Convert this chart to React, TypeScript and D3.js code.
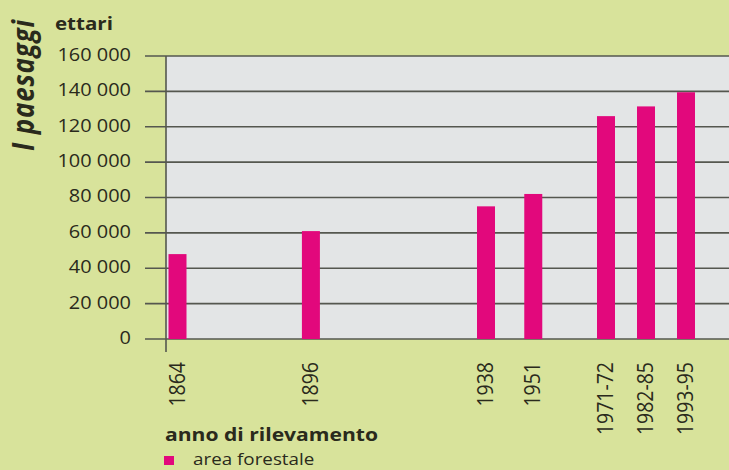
import { useEffect, useRef } from 'react';
import * as d3 from 'd3';

const labels = ['1864', '1896', '1938', '1951', '1971-72', '1982-85', '1993-95'];
const years = [1864, 1896, 1938, 1951, 1971, 1982, 1993];
const values = [48000, 61000, 75000, 82000, 126000, 131500, 139500];
const yTicks = [0, 20000, 40000, 60000, 80000, 100000, 120000, 140000, 160000];

const W = 729;
const H = 470;

export default function App() {
  const svgRef = useRef<SVGSVGElement>(null);

  useEffect(() => {
    document.body.style.margin = '0';
    if (!svgRef.current) return;
    const svg = d3.select(svgRef.current);
    svg.selectAll('*').remove();

    const font = '"Open Sans", "Noto Sans", sans-serif';
    const ink = '#2a2a1c';
    const magenta = '#e2087c';
    const grid = '#55574f';
    const sx = 1.14; // source picture's text is a little stretched sideways

    const plot = { left: 166, top: 56, right: W, bottom: 339 };

    svg.append('rect').attr('width', W).attr('height', H).attr('fill', '#d8e39b');

    const y = d3.scaleLinear().domain([0, 160000]).range([plot.bottom, plot.top]);
    // the year axis is stretched unevenly in the original: piecewise linear
    const x = d3.scaleLinear()
      .domain([1864, 1938, 1993])
      .range([177.5, 486, 686]);

    svg.append('rect')
      .attr('x', plot.left)
      .attr('y', plot.top)
      .attr('width', plot.right - plot.left)
      .attr('height', plot.bottom - plot.top)
      .attr('fill', '#e3e5e6');

    const fmt = (t: number) => d3.format(',')(t).replace(/,/g, ' ');

    // gridlines + tick marks
    yTicks.forEach(t => {
      svg.append('line')
        .attr('x1', 145).attr('x2', plot.right)
        .attr('y1', y(t)).attr('y2', y(t))
        .attr('stroke', grid).attr('stroke-width', 1.6);
      svg.append('text')
        .attr('transform', `translate(131,${y(t)}) scale(${sx},1)`)
        .attr('dy', '0.28em')
        .attr('text-anchor', 'end')
        .attr('font-family', font)
        .attr('font-size', 17.5)
        .attr('fill', ink)
        .text(fmt(t));
    });

    // bars
    const bw = 18;
    svg.append('g').selectAll('rect')
      .data(values)
      .join('rect')
      .attr('x', (d, i) => x(years[i]) - bw / 2)
      .attr('y', d => y(d))
      .attr('width', bw)
      .attr('height', d => y(0) - y(d))
      .attr('fill', magenta);

    // y axis line
    svg.append('line')
      .attr('x1', plot.left).attr('x2', plot.left)
      .attr('y1', plot.top).attr('y2', 352)
      .attr('stroke', grid).attr('stroke-width', 1.6);

    // x labels
    labels.forEach((l, i) => {
      svg.append('text')
        .attr('transform', `translate(${x(years[i]) + 7},362) scale(${sx},1) rotate(-90)`)
        .attr('text-anchor', 'end')
        .attr('font-family', font)
        .attr('font-size', 19.5)
        .attr('fill', ink)
        .text(l);
    });

    svg.append('text')
      .attr('transform', `translate(55,30) scale(${sx},1)`)
      .attr('font-family', font)
      .attr('font-weight', 'bold')
      .attr('font-size', 18)
      .attr('fill', ink)
      .text('ettari');

    svg.append('text')
      .attr('transform', `translate(34,151) scale(${sx},1) rotate(-90)`)
      .attr('font-family', font)
      .attr('font-weight', 'bold')
      .attr('font-style', 'italic')
      .attr('font-size', 26)
      .attr('letter-spacing', 0.8)
      .attr('fill', ink)
      .text('I paesaggi');

    svg.append('text')
      .attr('transform', `translate(165,441) scale(${sx},1)`)
      .attr('font-family', font)
      .attr('font-weight', 'bold')
      .attr('font-size', 18.5)
      .attr('fill', ink)
      .text('anno di rilevamento');

    svg.append('rect')
      .attr('x', 164).attr('y', 456)
      .attr('width', 10).attr('height', 9)
      .attr('fill', magenta);

    svg.append('text')
      .attr('transform', `translate(193,465) scale(${sx},1)`)
      .attr('font-family', font)
      .attr('font-size', 16.5)
      .attr('fill', ink)
      .text('area forestale');
  }, []);

  return <svg ref={svgRef} width={W} height={H} style={{ display: 'block' }} />;
}
